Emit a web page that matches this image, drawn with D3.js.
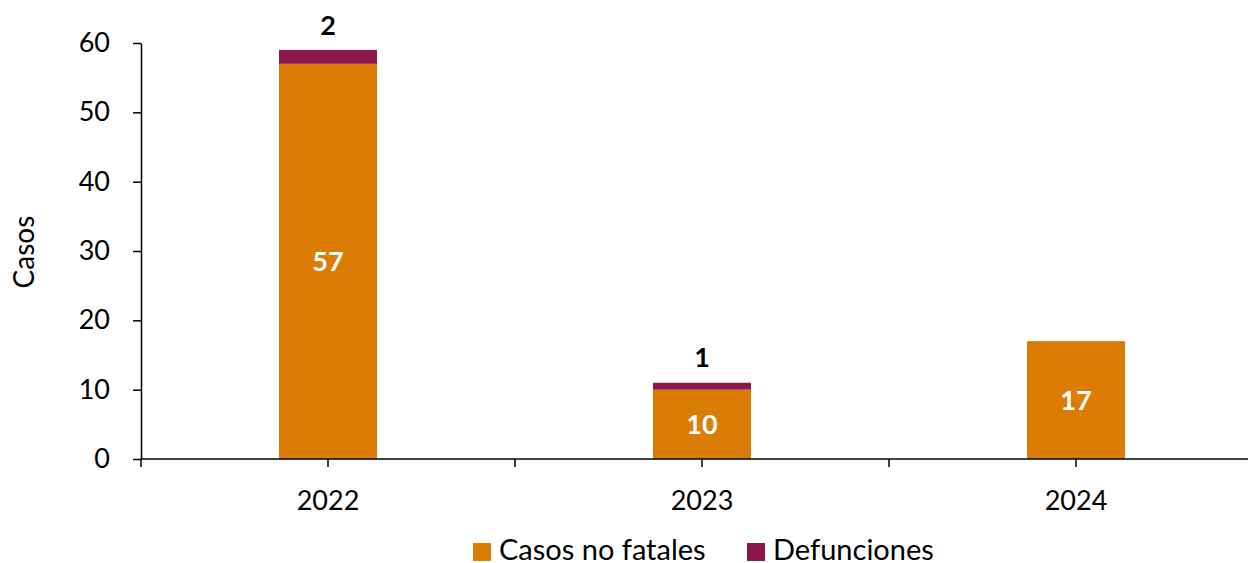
<!DOCTYPE html>
<html>
<head>
<meta charset="utf-8">
<script src="https://cdn.jsdelivr.net/npm/d3@7"></script>
<style>
  body { margin: 0; background: #fff; }
  svg { display: block; font-family: Lato, "Open Sans", sans-serif; }
</style>
</head>
<body>
<svg id="chart" width="1248" height="563"></svg>
<script>
// chart data
var years = ["2022", "2023", "2024"];
var noFatales = [57, 10, 17];
var defunciones = [2, 1, 0];
var seriesNames = ["Casos no fatales", "Defunciones"];
var seriesColors = ["#DB7C05", "#8C174A"];
var yTicks = [0, 10, 20, 30, 40, 50, 60];

var svg = d3.select("#chart");
var plotLeft = 141, plotRight = 1263, plotTop = 43, plotBottom = 459;

var x = d3.scaleBand().domain(years).range([plotLeft, plotRight]).padding(0);
var y = d3.scaleLinear().domain([0, 60]).range([plotBottom, plotTop]);
var barW = x.bandwidth() * 0.262;

var rows = years.map(function(yr, i){
    return { year: yr, a: noFatales[i], b: defunciones[i] };
});

// bars - non fatal
svg.selectAll("rect.a").data(rows).enter().append("rect")
    .attr("class", "a")
    .attr("x", function(d){ return x(d.year) + x.bandwidth()/2 - barW/2; })
    .attr("width", barW)
    .attr("y", function(d){ return y(d.a); })
    .attr("height", function(d){ return y(0) - y(d.a); })
    .attr("fill", seriesColors[0]);

// bars - deaths stacked on top
svg.selectAll("rect.b").data(rows.filter(function(d){ return d.b > 0; })).enter().append("rect")
    .attr("class", "b")
    .attr("x", function(d){ return x(d.year) + x.bandwidth()/2 - barW/2; })
    .attr("width", barW)
    .attr("y", function(d){ return y(d.a + d.b); })
    .attr("height", function(d){ return y(d.a) - y(d.a + d.b); })
    .attr("fill", seriesColors[1]);

// labels inside bars
svg.selectAll("text.va").data(rows).enter().append("text")
    .attr("class", "va")
    .attr("x", function(d){ return x(d.year) + x.bandwidth()/2; })
    .attr("y", function(d){ return (y(d.a) + y(0))/2; })
    .attr("dy", "0.36em")
    .attr("text-anchor", "middle")
    .style("font-size", "27px")
    .style("font-weight", "bold")
    .attr("fill", "#fff")
    .text(function(d){ return d.a; });

// labels above bars (deaths)
svg.selectAll("text.vb").data(rows.filter(function(d){ return d.b > 0; })).enter().append("text")
    .attr("class", "vb")
    .attr("x", function(d){ return x(d.year) + x.bandwidth()/2; })
    .attr("y", function(d){ return y(d.a + d.b) - 25; })
    .attr("dy", "0.36em")
    .attr("text-anchor", "middle")
    .style("font-size", "27px")
    .style("font-weight", "bold")
    .attr("fill", "#000")
    .text(function(d){ return d.b; });

// y axis
var yAxis = svg.append("g")
    .attr("transform", "translate(" + plotLeft + ",0)")
    .call(d3.axisLeft(y).tickValues(yTicks).tickSize(8).tickPadding(23).tickSizeOuter(0));
yAxis.select(".domain").attr("stroke", "#000").attr("stroke-width", 1.5);
yAxis.selectAll(".tick line").attr("stroke", "#000").attr("stroke-width", 1.5);
yAxis.selectAll(".tick text").style("font-size", "27px").attr("fill", "#000")
    .style("font-family", "Lato, 'Open Sans', sans-serif");

// x axis line + ticks at band edges and centres
svg.append("line")
    .attr("x1", plotLeft).attr("x2", 1248)
    .attr("y1", plotBottom).attr("y2", plotBottom)
    .attr("stroke", "#000").attr("stroke-width", 1.5);

var tickXs = [];
years.forEach(function(yr){
    tickXs.push(x(yr));
    tickXs.push(x(yr) + x.bandwidth()/2);
});
svg.selectAll("line.xt").data(tickXs).enter().append("line")
    .attr("class", "xt")
    .attr("x1", function(d){ return d; }).attr("x2", function(d){ return d; })
    .attr("y1", plotBottom).attr("y2", plotBottom + 8)
    .attr("stroke", "#000").attr("stroke-width", 1.5);

svg.selectAll("text.xl").data(years).enter().append("text")
    .attr("class", "xl")
    .attr("x", function(d){ return x(d) + x.bandwidth()/2; })
    .attr("y", 510)
    .attr("text-anchor", "middle")
    .style("font-size", "27px")
    .attr("fill", "#000")
    .text(function(d){ return d; });

// y axis title
svg.append("text")
    .attr("transform", "translate(34,252) rotate(-90)")
    .attr("text-anchor", "middle")
    .style("font-size", "28px")
    .attr("fill", "#000")
    .text("Casos");

// legend
var legendX = [473, 747];
var leg = svg.selectAll("g.leg").data(seriesNames).enter().append("g")
    .attr("class", "leg")
    .attr("transform", function(d, i){ return "translate(" + legendX[i] + ",543)"; });
leg.append("rect")
    .attr("width", 18).attr("height", 18)
    .attr("fill", function(d, i){ return seriesColors[i]; });
leg.append("text")
    .attr("x", 26).attr("y", 17)
    .style("font-size", "29px")
    .attr("fill", "#000")
    .text(function(d){ return d; });
</script>
</body>
</html>
